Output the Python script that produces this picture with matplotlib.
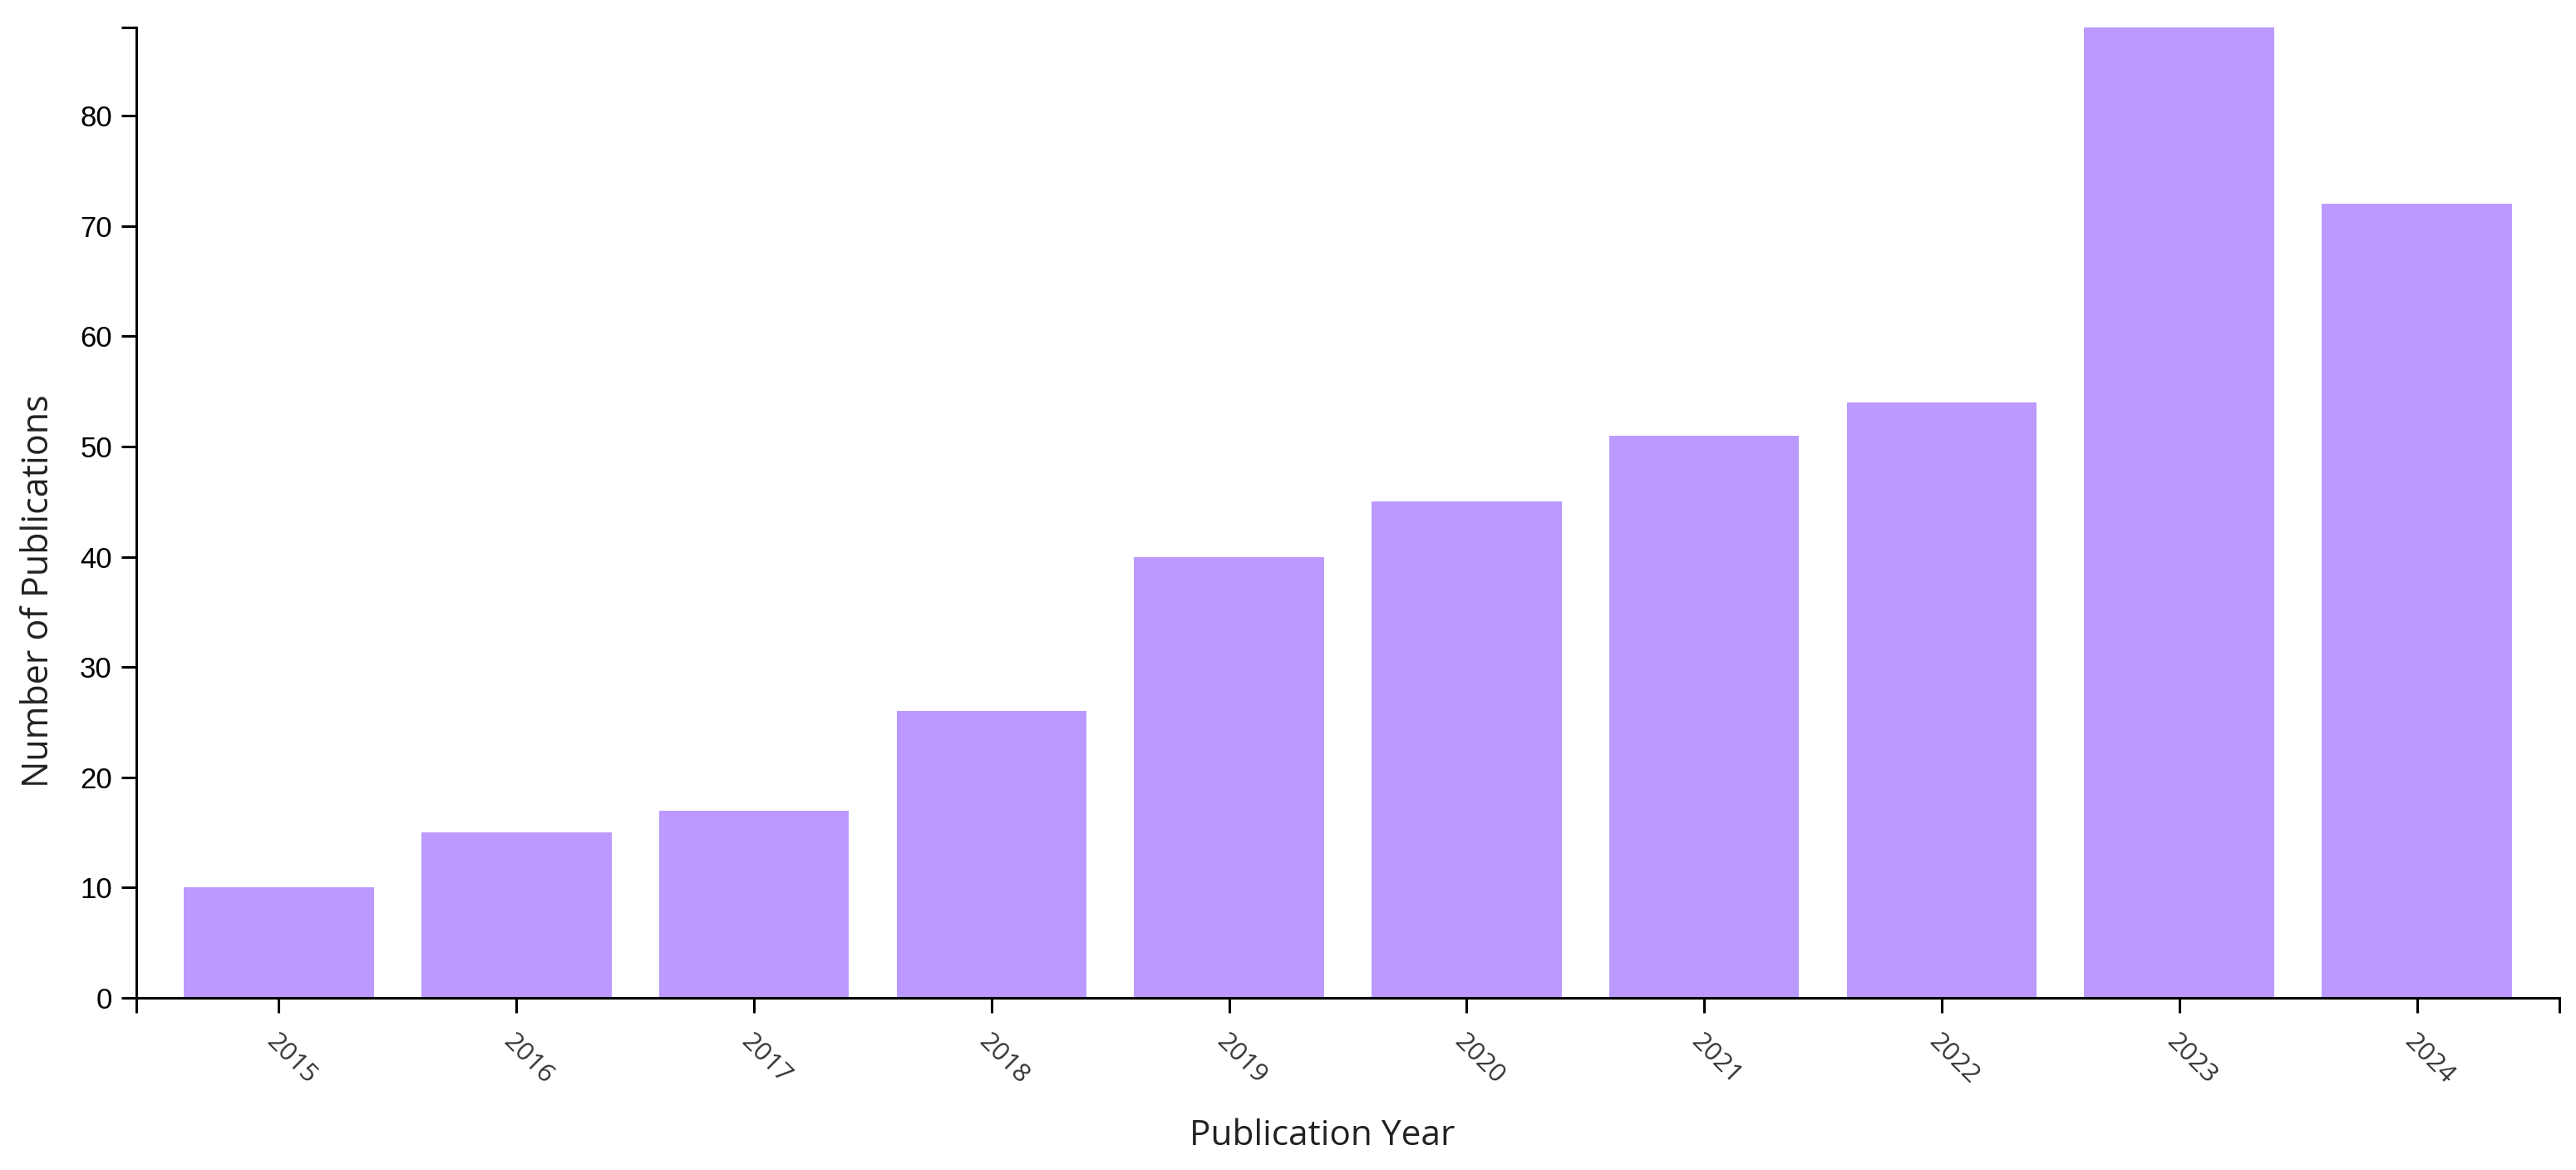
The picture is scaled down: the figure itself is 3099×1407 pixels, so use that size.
import matplotlib
matplotlib.use("Agg")
import matplotlib.pyplot as plt
import numpy as np

# Publications per year
years = ['2015', '2016', '2017', '2018', '2019', '2020', '2021', '2022', '2023', '2024']
publications = [10, 15, 17, 26, 40, 45, 51, 54, 88, 72]
y_ticks = [0, 10, 20, 30, 40, 50, 60, 70, 80]

fig = plt.figure(figsize=(30.99, 14.07), dpi=100)
ax = fig.add_axes([164/3099, 1 - 1200/1407, (3079 - 164)/3099, (1200 - 33)/1407])

x = np.arange(len(years))
ax.bar(x, publications, width=0.8, color='#bb99ff', linewidth=0)

ax.set_xlim(-0.6, len(years) - 0.4)
ax.set_ylim(0, max(publications))

for s in ['top', 'right']:
    ax.spines[s].set_visible(False)
for s in ['left', 'bottom']:
    ax.spines[s].set_linewidth(2.2)
    ax.spines[s].set_color('black')

ax.set_yticks(y_ticks)
ax.set_yticklabels([str(v) for v in y_ticks], fontsize=25, family='Liberation Sans')
ax.set_yticks([max(publications)], minor=True)
ax.set_xticks(x)
ax.set_xticklabels(years, rotation=-45, ha='left', va='top', rotation_mode='anchor',
                   fontsize=22.5, family='Open Sans', color='#333333')
ax.set_xticks([-0.6, len(years) - 0.4], minor=True)

ax.tick_params(axis='both', which='both', length=13, width=2.2, color='black')
ax.tick_params(axis='y', pad=8)
ax.tick_params(axis='x', pad=14)
ax.tick_params(axis='x', which='minor', labelbottom=False)
ax.tick_params(axis='y', which='minor', labelleft=False)

ax.set_xlabel('Publication Year', fontsize=30.5, family='Open Sans', color='#222222')
ax.set_ylabel('Number of Publications', fontsize=31, family='Open Sans', color='#222222')
ax.xaxis.set_label_coords(0.4895, -0.124)
ax.yaxis.set_label_coords(-0.0325, 0.419)

fig.savefig('out.png', dpi=100)
plt.close(fig)
